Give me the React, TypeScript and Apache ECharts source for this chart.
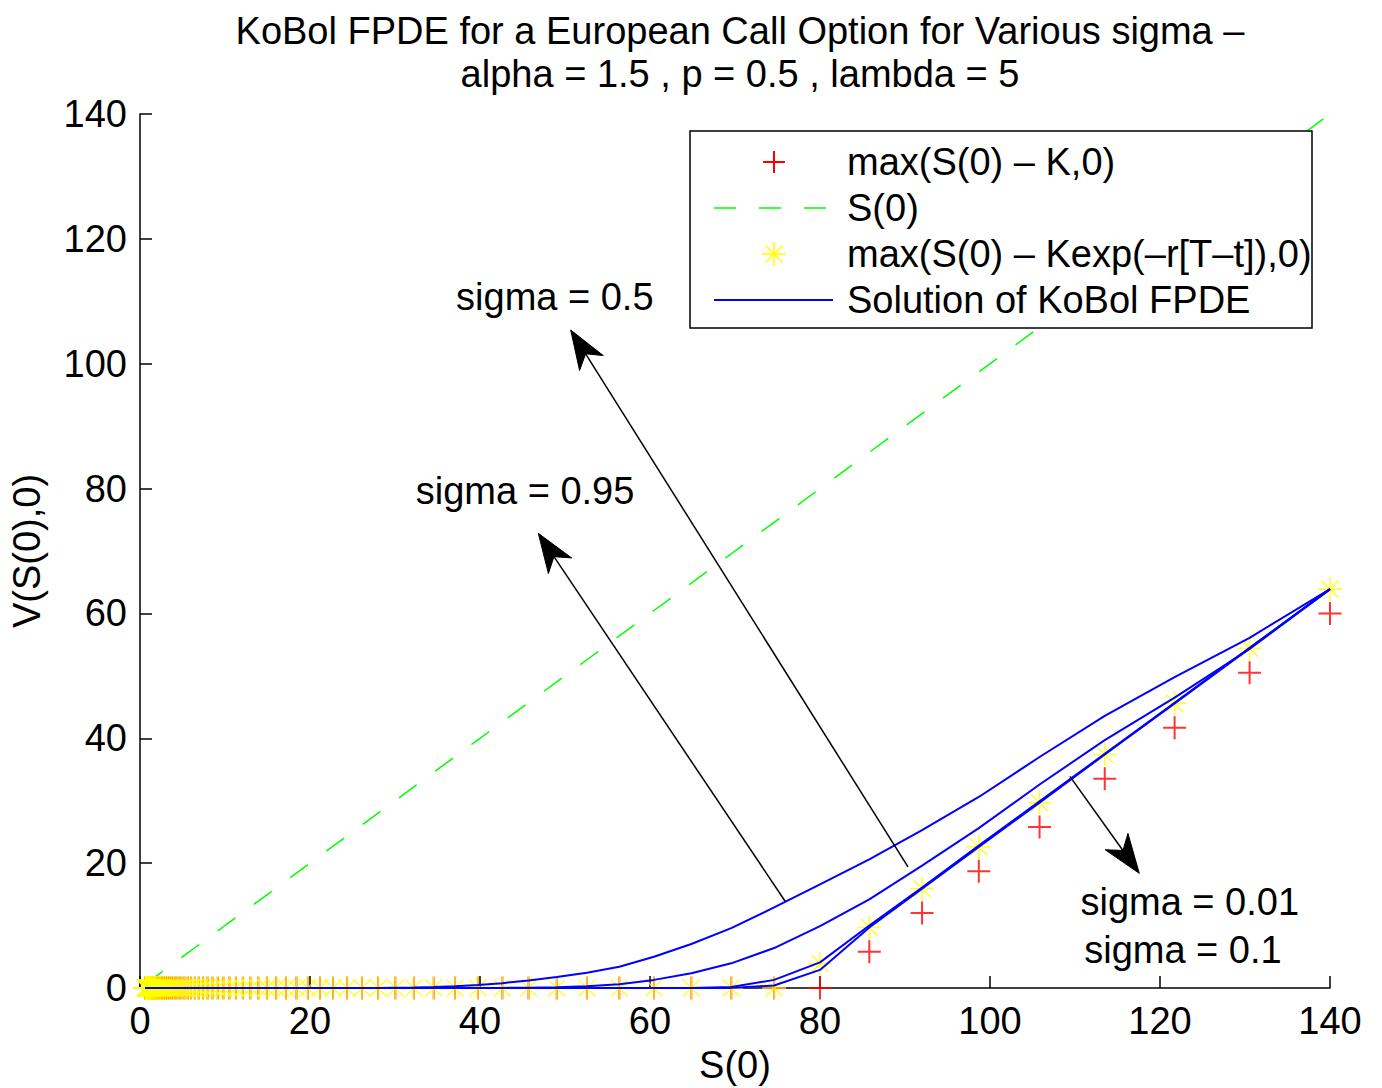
import React, { useEffect, useRef } from "react";
import * as echarts from "echarts";

// S(0) grid
const sGrid = [0.60,0.64,0.69,0.74,0.79,0.85,0.91,0.98,1.05,1.12,1.20,1.29,1.38,1.48,1.59,1.71,1.83,1.96,2.11,2.26,2.42,2.60,2.79,2.99,3.20,3.44,3.68,3.95,4.24,4.54,4.87,5.23,5.61,6.01,6.45,6.91,7.42,7.95,8.53,9.15,9.81,10.52,11.28,12.10,12.98,13.92,14.93,16.01,17.17,18.41,19.75,21.18,22.71,24.36,26.12,28.01,30.04,32.22,34.56,37.06,39.75,42.63,45.71,49.03,52.58,56.39,60.47,64.86,69.56,74.60,80.00,85.80,92.01,98.68,105.83,113.50,121.72,130.54,140.00];

// Non-zero tails of each series (aligned to the end of sGrid); earlier values are 0
const payoffTail = [0, 5.8, 12.0, 18.7, 25.8, 33.5, 41.7, 50.5, 60.0];
const discPayoffTail = [3.9, 9.7, 15.9, 22.6, 29.7, 37.4, 45.6, 54.4, 63.9];
const sig095Tail = [0.04,0.08,0.16,0.28,0.48,0.78,1.2,1.75,2.45,3.4,5.0,7.05,9.6,12.9,16.6,20.6,25.3,30.6,37.0,43.6,49.8,56.1,63.9];
const sig05Tail = [0,0,0,0,0.01,0.02,0.05,0.12,0.3,0.6,1.3,2.35,3.95,6.4,9.9,14.2,19.6,25.6,32.6,39.7,46.5,54.3,63.9];
const sig01Tail = [0.02,0.15,1.3,4.1,10.0,16.1,22.8,29.9,37.5,45.7,54.5,63.9];
const sig001Tail = [0,0.02,0.4,2.9,9.7,15.9,22.6,29.7,37.4,45.6,54.4,63.9];

// annotations in data coordinates: [fromS, fromV, tipS, tipV]
const arrows = [
  [90.35, 19.4, 50.67, 105.4],
  [75.9, 13.9, 46.86, 72.83],
  [109.4, 33.9, 117.56, 18.37],
];
const annoTexts: [string, number, number][] = [
  ["sigma = 0.5", 48.8, 110.7],
  ["sigma = 0.95", 45.3, 79.6],
  ["sigma = 0.01", 123.5, 13.8],
  ["sigma = 0.1", 122.7, 6.1],
];

const legendNames = [
  "max(S(0) \u2013 K,0)",
  "S(0)",
  "max(S(0) \u2013 Kexp(\u2013r[T\u2013t]),0)",
  "Solution of KoBol FPDE",
];

const FONT = "'Liberation Sans', Arial, Helvetica, sans-serif";
const FS = 38;

function padTail(tail: number[]) {
  const off = sGrid.length - tail.length;
  return sGrid.map((s, i) => [s, i - off >= 0 ? tail[i - off] : 0]);
}

const plusPath = "path://M0,-10L0,10M-10,0L10,0";
const starPath = "path://M0,-10L0,10M-10,0L10,0M-7.07,-7.07L7.07,7.07M-7.07,7.07L7.07,-7.07";

export default function App() {
  const ref = useRef<HTMLDivElement>(null);
  useEffect(() => {
    if (!ref.current) return;
    const chart = echarts.init(ref.current, null, { renderer: "svg" });
    const blue = (name: string, tail: number[]) => ({
      type: "line",
      name,
      data: padTail(tail),
      showSymbol: false,
      silent: true,
      lineStyle: { color: "#0000ff", width: 2 },
      z: 5,
    });
    chart.setOption({
      animation: false,
      backgroundColor: "#ffffff",
      title: {
        text: "KoBol FPDE for a European Call Option for Various sigma \u2013\nalpha = 1.5 , p = 0.5 , lambda = 5",
        left: 735,
        top: 4,
        textAlign: "center",
        textStyle: { fontFamily: FONT, fontSize: FS, fontWeight: "normal", color: "#000", lineHeight: 43 },
      },
      grid: { left: 140, top: 114, width: 1190, height: 874, containLabel: false, outerBoundsMode: "none" },
      xAxis: {
        type: "value",
        min: 0,
        max: 140,
        interval: 20,
        name: "S(0)",
        nameLocation: "middle",
        nameGap: 58,
        nameTextStyle: { fontFamily: FONT, fontSize: FS, color: "#000" },
        axisLine: { lineStyle: { color: "#000", width: 1.5 } },
        axisTick: { inside: true, length: 12, lineStyle: { color: "#000", width: 1.5 } },
        axisLabel: { fontFamily: FONT, fontSize: FS, color: "#000", margin: 14 },
        splitLine: { show: false },
      },
      yAxis: {
        type: "value",
        min: 0,
        max: 140,
        interval: 20,
        name: "V(S(0),0)",
        nameLocation: "middle",
        nameGap: 94,
        nameTextStyle: { fontFamily: FONT, fontSize: FS, color: "#000" },
        axisLine: { lineStyle: { color: "#000", width: 1.5 } },
        axisTick: { inside: true, length: 12, lineStyle: { color: "#000", width: 1.5 } },
        axisLabel: { fontFamily: FONT, fontSize: FS, color: "#000", margin: 13 },
        splitLine: { show: false },
      },
      series: [
        {
          type: "scatter",
          name: legendNames[0],
          data: padTail(payoffTail),
          symbol: plusPath,
          symbolSize: 23,
          silent: true,
          itemStyle: { color: "rgba(0,0,0,0)", borderColor: "#ff0000", borderWidth: 2 },
          z: 2,
        },
        {
          type: "line",
          name: legendNames[1],
          data: sGrid.map((s) => [s, s]),
          showSymbol: false,
          silent: true,
          lineStyle: { color: "#00ff00", width: 1.5, type: [22, 23] },
          z: 3,
        },
        {
          type: "scatter",
          name: legendNames[2],
          data: padTail(discPayoffTail),
          symbol: starPath,
          symbolSize: 24,
          silent: true,
          itemStyle: { color: "rgba(0,0,0,0)", borderColor: "#ffff00", borderWidth: 1.6 },
          z: 4,
        },
        blue("sigma = 0.95", sig095Tail),
        blue("sigma = 0.5", sig05Tail),
        blue("sigma = 0.1", sig01Tail),
        blue("sigma = 0.01", sig001Tail),
      ],
    });

    const graphics: any[] = [];
    // legend box
    const lx = 690, ly = 131, lw = 622, lh = 197;
    graphics.push({ type: "rect", shape: { x: lx, y: ly, width: lw, height: lh }, style: { fill: "#fff", stroke: "#000", lineWidth: 1.5 }, z: 100 });
    const rows = [162, 208, 254, 300];
    // plus
    graphics.push({ type: "line", shape: { x1: 774, y1: rows[0] - 11, x2: 774, y2: rows[0] + 11 }, style: { stroke: "#ff0000", lineWidth: 2 }, z: 101 });
    graphics.push({ type: "line", shape: { x1: 763, y1: rows[0], x2: 785, y2: rows[0] }, style: { stroke: "#ff0000", lineWidth: 2 }, z: 101 });
    // dashed green
    graphics.push({ type: "line", shape: { x1: 714, y1: rows[1], x2: 830, y2: rows[1] }, style: { stroke: "#00ff00", lineWidth: 1.5, lineDash: [22, 23] }, z: 101 });
    // star
    const sr = 12, sd = 8.5;
    [[0, -sr, 0, sr], [-sr, 0, sr, 0], [-sd, -sd, sd, sd], [-sd, sd, sd, -sd]].forEach(([a, b, c, d]) => {
      graphics.push({ type: "line", shape: { x1: 774 + a, y1: rows[2] + b, x2: 774 + c, y2: rows[2] + d }, style: { stroke: "#ffff00", lineWidth: 1.6 }, z: 101 });
    });
    // blue
    graphics.push({ type: "line", shape: { x1: 714, y1: rows[3], x2: 833, y2: rows[3] }, style: { stroke: "#0000ff", lineWidth: 2 }, z: 101 });
    legendNames.forEach((t, i) => {
      graphics.push({ type: "text", x: 847, y: rows[i], style: { text: t, fill: "#000", fontSize: FS, fontFamily: FONT, align: "left", verticalAlign: "middle" }, z: 101 });
    });

    // arrows
    arrows.forEach(([s0, v0, s1, v1]) => {
      const p0 = chart.convertToPixel({ gridIndex: 0 }, [s0, v0]) as number[];
      const t = chart.convertToPixel({ gridIndex: 0 }, [s1, v1]) as number[];
      const dx = t[0] - p0[0], dy = t[1] - p0[1];
      const len = Math.hypot(dx, dy);
      const ux = dx / len, uy = dy / len;
      const nx = -uy, ny = ux;
      const L = 39, hw = 14;
      const bx = t[0] - ux * L, by = t[1] - uy * L;
      const notch = [t[0] - ux * L * 0.72, t[1] - uy * L * 0.72];
      graphics.push({ type: "line", shape: { x1: p0[0], y1: p0[1], x2: notch[0], y2: notch[1] }, style: { stroke: "#000", lineWidth: 1.5 }, z: 50 });
      graphics.push({
        type: "polygon",
        shape: { points: [[t[0], t[1]], [bx + nx * hw, by + ny * hw], notch, [bx - nx * hw, by - ny * hw]] },
        style: { fill: "#000", stroke: "#000", lineWidth: 1 },
        z: 50,
      });
    });
    annoTexts.forEach(([txt, s, v]) => {
      const p = chart.convertToPixel({ gridIndex: 0 }, [s, v]) as number[];
      graphics.push({ type: "text", x: p[0], y: p[1], style: { text: txt, fill: "#000", fontSize: FS, fontFamily: FONT, align: "center", verticalAlign: "middle" }, z: 50 });
    });

    chart.setOption({ graphic: graphics });
    return () => chart.dispose();
  }, []);
  return <div ref={ref} style={{ position: "absolute", left: 0, top: 0, width: 1382, height: 1088 }} />;
}
